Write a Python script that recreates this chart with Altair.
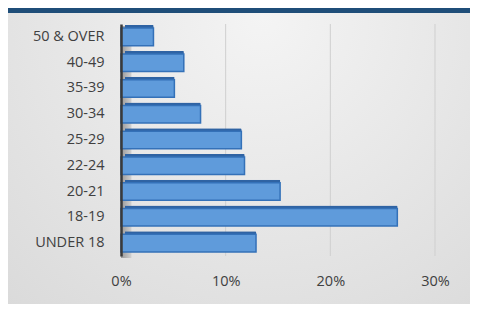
import altair as alt
import pandas as pd

categories = ["50 & OVER", "40-49", "35-39", "30-34", "25-29", "22-24", "20-21", "18-19", "UNDER 18"]
values = [3.1, 6.0, 5.1, 7.6, 11.5, 11.8, 15.2, 26.4, 12.9]
x_ticks = [0, 10, 20, 30]
grid_values = [10, 20, 30]

df = pd.DataFrame({"age": categories, "pct": values})
gdf = pd.DataFrame({"g": grid_values})
one = pd.DataFrame({"k": [0]})

W, H = 314, 232
PL, PT, PR, PB = 113, 16, 35, 48
FONT = "Open Sans"

bg = alt.Chart(one).mark_rect(
    fill=alt.Gradient(
        gradient="radial",
        stops=[alt.GradientStop(color="#f4f4f4", offset=0), alt.GradientStop(color="#d8d8d8", offset=1)],
        x1=0.55, y1=0.2, x2=0.55, y2=0.2, r1=0, r2=0.9,
    )
).encode(x=alt.value(-PL), x2=alt.value(W + PR), y=alt.value(-PT), y2=alt.value(H + PB))

band = alt.Chart(one).mark_rect(fill="#1f4e79").encode(
    x=alt.value(-PL), x2=alt.value(W + PR), y=alt.value(-PT), y2=alt.value(-PT + 5)
)

xscale = alt.Scale(domain=[0, 30], nice=False)
yscale = alt.Scale(domain=categories, paddingInner=0.32, paddingOuter=0.16)

grid = alt.Chart(gdf).mark_rule(color="#cfcfcf", strokeWidth=1).encode(
    x=alt.X("g:Q", scale=xscale), y=alt.value(0), y2=alt.value(H)
)

wall = alt.Chart(one).mark_rect(
    fill=alt.Gradient(
        gradient="linear",
        stops=[alt.GradientStop(color="#999999", offset=0), alt.GradientStop(color="#d0d0d0", offset=1)],
        x1=0, x2=1, y1=0, y2=0,
    )
).encode(x=alt.datum(0, scale=xscale), x2=alt.datum(1.0), y=alt.value(2), y2=alt.value(H + 2))

base = alt.Chart(df).encode(
    y=alt.Y("age:N", scale=yscale, sort=categories, title=None,
            axis=alt.Axis(ticks=False, labelPadding=17, domainColor="#3a3a3a", domainWidth=2.5,
                          labelColor="#404040", labelFontSize=14.5, labelFont=FONT, zindex=2)),
    x=alt.X("pct:Q", scale=xscale, title=None,
            axis=alt.Axis(values=x_ticks, labelExpr="datum.value + '%'", labelFlush=False,
                          ticks=False, domain=False, grid=False,
                          labelPadding=18, labelColor="#404040", labelFontSize=14.5, labelFont=FONT, zindex=2)),
)

depth = base.mark_bar(color="#2f63a3", xOffset=4, yOffset=-3, cornerRadius=1)
front = base.mark_bar(color="#5f9bdb", stroke="#3471b8", strokeWidth=1.5)

chart = alt.layer(bg, band, grid, wall, depth, front).properties(
    width=W, height=H,
    autosize=alt.AutoSizeParams(type="none"),
    padding={"left": PL, "top": PT, "right": PR, "bottom": PB},
).configure_view(stroke=None).configure(background="#e4e4e4")

chart.save("out.html", embed_options={"renderer": "svg", "actions": False})
